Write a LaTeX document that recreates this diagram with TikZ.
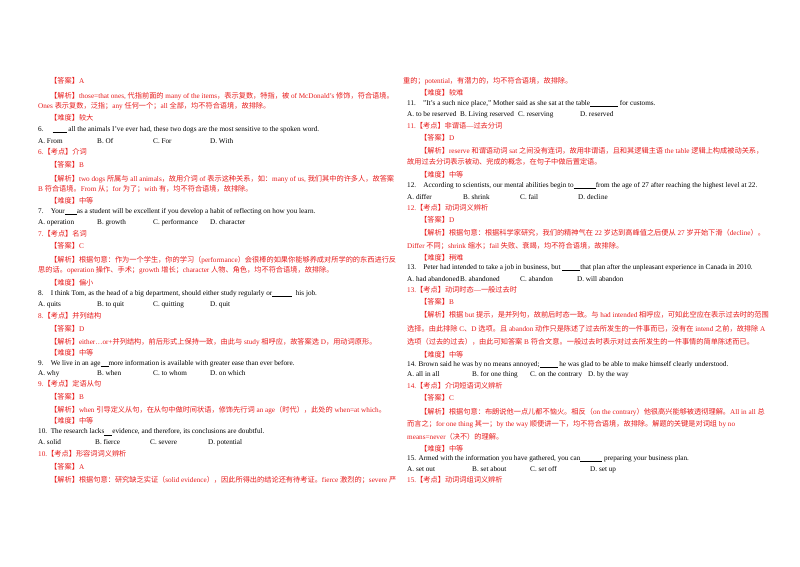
\documentclass[tikz,border=0pt]{standalone}
\usepackage{fontspec}
\setmainfont{Liberation Serif}
\newfontfamily\cjk{Noto Sans CJK SC}
\newXeTeXintercharclass\cjkclass
\newcount\cc
\cc="4E00 \loop\XeTeXcharclass\cc=\cjkclass\advance\cc 1 \ifnum\cc<"A000 \repeat
\cc="3000 \loop\XeTeXcharclass\cc=\cjkclass\advance\cc 1 \ifnum\cc<"3040 \repeat
\cc="FF00 \loop\XeTeXcharclass\cc=\cjkclass\advance\cc 1 \ifnum\cc<"FFF0 \repeat
\XeTeXinterchartoks 0 \cjkclass = {\begingroup\cjk}
\XeTeXinterchartoks 4095 \cjkclass = {\begingroup\cjk}
\XeTeXinterchartoks \cjkclass 0 = {\endgroup}
\XeTeXinterchartoks \cjkclass 4095 = {\endgroup}
\XeTeXinterchartokenstate=1
\definecolor{ansred}{RGB}{232,28,28}
\newcommand\bl[1]{\rule[-1pt]{#1pt}{0.4pt}}
\newcommand\opts[7]{\makebox[#1pt][l]{#4}\makebox[#2pt][l]{#5}\makebox[#3pt][l]{#6}#7}
\tikzset{
 k/.style={anchor=west,inner sep=0pt,font=\fontsize{7.2}{8}\selectfont,text=black},
 r/.style={k,text=ansred}
}
\begin{document}
\begin{tikzpicture}[x=1pt,y=-1pt]
\useasboundingbox[fill=white] (0,0) rectangle (800,566);
% left column
\node[r] (l1) at (50,81) {【答案】A};
\node[r] (l2) at (50,96) {【解析】those=that ones, 代指前面的 many of the items，表示复数，特指，被 of McDonald's 修饰，符合语境。};
\node[r] (l3) at (38,106) {Ones 表示复数，泛指；any 任何一个；all 全部，均不符合语境，故排除。};
\node[r] (l4) at (50,118) {【难度】较大};
\node[k] (l5) at (38,130) {6.\quad\ \bl{14} all the animals I've ever had, these two dogs are the most sensitive to the spoken word.};
\node[k] (l6) at (38,141) {\opts{59}{56}{57}{A. From}{B. Of}{C. For}{D. With}};
\node[r] (l7) at (38,152) {6.【考点】介词};
\node[r] (l8) at (50,165) {【答案】B};
\node[r] (l9) at (50,179) {【解析】two dogs 所属与 all animals，故用介词 of 表示这种关系，如：many of us, 我们其中的许多人，故答案};
\node[r] (l10) at (38,189) {B 符合语境。From 从；for 为了；with 有，均不符合语境，故排除。};
\node[r] (l11) at (50,201) {【难度】中等};
\node[k] (l12) at (38,212) {7.\quad Your\bl{12}as a student will be excellent if you develop a habit of reflecting on how you learn.};
\node[k] (l13) at (38,223) {\opts{59}{56}{57}{A. operation}{B. growth}{C. performance}{D. character}};
\node[r] (l14) at (38,234) {7.【考点】名词};
\node[r] (l15) at (50,246) {【答案】C};
\node[r] (l16) at (50,260) {【解析】根据句意：作为一个学生，你的学习（performance）会很棒的如果你能够养成对所学的的东西进行反};
\node[r] (l17) at (38,270) {思的话。operation 操作、手术；growth 增长；character 人物、角色，均不符合语境，故排除。};
\node[r] (l18) at (50,283) {【难度】偏小};
\node[k] (l19) at (38,294) {8.\quad I think Tom, as the head of a big department, should either study regularly or\bl{20}\ \ his job.};
\node[k] (l20) at (38,305) {\opts{59}{56}{57}{A. quits}{B. to quit}{C. quitting}{D. quit}};
\node[r] (l21) at (38,316) {8.【考点】并列结构};
\node[r] (l22) at (50,329) {【答案】D};
\node[r] (l23) at (50,342) {【解析】either…or+并列结构，前后形式上保持一致，由此与 study 相呼应，故答案选 D，用动词原形。};
\node[r] (l24) at (50,353) {【难度】中等};
\node[k] (l25) at (38,364) {9.\quad We live in an age\bl{8}more information is available with greater ease than ever before.};
\node[k] (l26) at (38,374) {\opts{59}{56}{57}{A. why}{B. when}{C. to whom}{D. on which}};
\node[r] (l27) at (38,384) {9.【考点】定语从句};
\node[r] (l28) at (50,397) {【答案】B};
\node[r] (l29) at (50,410) {【解析】when 引导定义从句，在从句中做时间状语，修饰先行词 an age（时代），此处的 when=at which。};
\node[r] (l30) at (50,421) {【难度】中等};
\node[k] (l31) at (38,432) {10.\enspace The research lacks\bl{8}evidence, and therefore, its conclusions are doubtful.};
\node[k] (l32) at (38,443) {\opts{57}{55}{58}{A. solid}{B. fierce}{C. severe}{D. potential}};
\node[r] (l33) at (38,454) {10.【考点】形容词词义辨析};
\node[r] (l34) at (50,467) {【答案】A};
\node[r] (l35) at (50,480) {【解析】根据句意：研究缺乏实证（solid evidence），因此所得出的结论还有待考证。fierce 激烈的；severe 严};
% right column
\node[r] (r1) at (403,81) {重的；potential，有潜力的，均不符合语境，故排除。};
\node[r] (r2) at (420,93) {【难度】较难};
\node[k] (r3) at (407,104) {11.\quad "It's a such nice place," Mother said as she sat at the table\bl{28}\ for customs.};
\node[k] (r4) at (407,115) {\opts{53}{58}{62}{A. to be reserved}{B. Living reserved}{C. reserving}{D. reserved}};
\node[r] (r5) at (407,126) {11.【考点】非谓语—过去分词};
\node[r] (r6) at (420,138) {【答案】D};
\node[r] (r7) at (420,151) {【解析】reserve 和谓语动词 sat 之间没有连词，故用非谓语，且和其逻辑主语 the table 逻辑上构成被动关系，};
\node[r] (r8) at (407,162) {故用过去分词表示被动、完成的概念，在句子中做后置定语。};
\node[r] (r9) at (420,175) {【难度】中等};
\node[k] (r10) at (407,186) {12.\quad According to scientists, our mental abilities begin to\bl{22}from the age of 27 after reaching the highest level at 22.};
\node[k] (r11) at (407,197) {\opts{56}{57}{58}{A. differ}{B. shrink}{C. fail}{D. decline}};
\node[r] (r12) at (407,208) {12.【考点】动词词义辨析};
\node[r] (r13) at (420,220) {【答案】D};
\node[r] (r14) at (420,233) {【解析】根据句意：根据科学家研究，我们的精神气在 22 岁达到高峰值之后便从 27 岁开始下滑（decline）。};
\node[r] (r15) at (407,246) {Differ 不同；shrink 缩水；fail 失败、衰竭，均不符合语境，故排除。};
\node[r] (r16) at (420,258) {【难度】稍难};
\node[k] (r17) at (407,268) {13.\quad Peter had intended to take a job in business, but \bl{18}that plan after the unpleasant experience in Canada in 2010.};
\node[k] (r18) at (407,279) {\opts{53}{60}{57}{A. had abandoned}{B. abandoned}{C. abandon}{D. will abandon}};
\node[r] (r19) at (407,290) {13.【考点】动词时态—一般过去时};
\node[r] (r20) at (420,302) {【答案】B};
\node[r] (r21) at (420,315) {【解析】根据 but 提示，是并列句，故前后时态一致。与 had intended 相呼应，可知此空应在表示过去时的范围};
\node[r] (r22) at (407,329) {选择。由此排除 C、D 选项。且 abandon 动作只是陈述了过去所发生的一件事而已，没有在 intend 之前，故排除 A};
\node[r] (r23) at (407,342) {选项（过去的过去），由此可知答案 B 符合文意。一般过去时表示对过去所发生的一件事情的简单陈述而已。};
\node[r] (r24) at (420,355) {【难度】中等};
\node[k] (r25) at (407,365) {14. Brown said he was by no means annoyed;\bl{18}\ he was glad to be able to make himself clearly understood.};
\node[k] (r26) at (407,375) {\opts{65}{58}{58}{A. all in all}{B. for one thing}{C. on the contrary}{D. by the way}};
\node[r] (r27) at (407,386) {14.【考点】介词短语词义辨析};
\node[r] (r28) at (420,398) {【答案】C};
\node[r] (r29) at (420,412) {【解析】根据句意：布朗说他一点儿都不恼火。相反（on the contrary）他很高兴能够被透彻理解。All in all 总};
\node[r] (r30) at (407,424) {而言之；for one thing 其一；by the way 顺便讲一下，均不符合语境，故排除。解题的关键是对词组 by no};
\node[r] (r31) at (407,437) {means=never（决不）的理解。};
\node[r] (r32) at (420,449) {【难度】中等};
\node[k] (r33) at (407,459) {15. Armed with the information you have gathered, you can\bl{22}\ preparing your business plan.};
\node[k] (r34) at (407,470) {\opts{65}{58}{60}{A. set out}{B. set about}{C. set off}{D. set up}};
\node[r] (r35) at (407,480) {15.【考点】动词词组词义辨析};
\end{tikzpicture}
\end{document}
